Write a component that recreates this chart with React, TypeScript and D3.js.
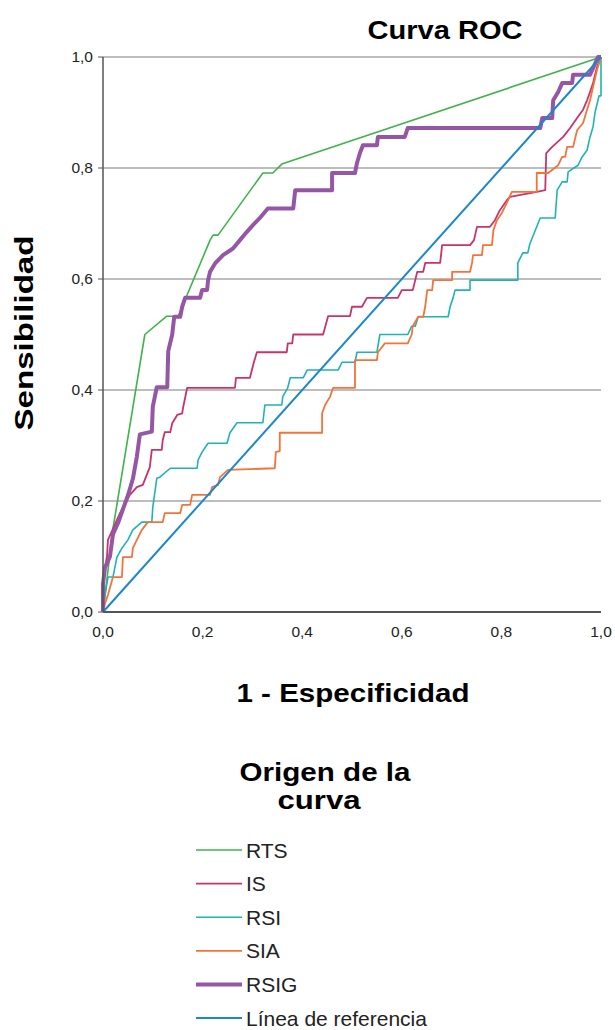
import React from 'react';
import * as d3 from 'd3';

// ROC curves (1 - especificidad, sensibilidad)
const rts: [number, number][] = [
  [0, 0], [0.02, 0.15], [0.084, 0.5], [0.128, 0.533], [0.151, 0.533], [0.215, 0.67],
  [0.221, 0.679], [0.231, 0.679], [0.321, 0.791], [0.341, 0.791], [0.359, 0.807], [1, 1]
];

const is: [number, number][] = [
  [0, 0], [0, 0.06], [0.008, 0.1], [0.01, 0.13], [0.02, 0.15], [0.034, 0.178], [0.054, 0.211],
  [0.068, 0.225], [0.08, 0.229], [0.094, 0.261], [0.098, 0.292], [0.118, 0.292], [0.12, 0.31],
  [0.124, 0.324], [0.135, 0.324], [0.139, 0.34], [0.149, 0.355], [0.159, 0.358], [0.161, 0.369],
  [0.169, 0.404], [0.265, 0.404], [0.267, 0.422], [0.295, 0.422], [0.299, 0.436], [0.303, 0.45],
  [0.309, 0.468], [0.369, 0.468], [0.371, 0.484], [0.38, 0.484], [0.382, 0.5], [0.442, 0.5],
  [0.452, 0.533], [0.496, 0.533], [0.5, 0.55], [0.52, 0.55], [0.53, 0.566], [0.592, 0.566],
  [0.6, 0.58], [0.622, 0.58], [0.627, 0.598], [0.631, 0.613], [0.643, 0.613], [0.647, 0.629],
  [0.677, 0.629], [0.681, 0.661], [0.737, 0.661], [0.745, 0.67], [0.751, 0.694], [0.777, 0.694],
  [0.787, 0.706], [0.797, 0.724], [0.811, 0.742], [0.817, 0.748], [0.871, 0.757], [0.888, 0.76],
  [0.89, 0.827], [0.902, 0.838], [0.924, 0.856], [0.938, 0.872], [0.952, 0.89], [0.964, 0.905],
  [0.972, 0.922], [0.978, 0.937], [0.984, 0.953], [0.992, 0.982], [1, 1]
];

const rsi: [number, number][] = [
  [0, 0], [0.004, 0.03], [0.01, 0.063], [0.02, 0.063], [0.028, 0.099], [0.038, 0.115], [0.05, 0.13],
  [0.06, 0.148], [0.078, 0.162], [0.098, 0.162], [0.1, 0.189], [0.108, 0.241], [0.114, 0.243],
  [0.135, 0.259], [0.189, 0.259], [0.191, 0.274], [0.199, 0.288], [0.211, 0.304], [0.249, 0.304],
  [0.255, 0.323], [0.269, 0.341], [0.321, 0.341], [0.325, 0.373], [0.359, 0.373], [0.361, 0.388],
  [0.371, 0.404], [0.376, 0.422], [0.402, 0.422], [0.41, 0.436], [0.472, 0.436], [0.48, 0.45],
  [0.506, 0.45], [0.51, 0.468], [0.55, 0.468], [0.556, 0.5], [0.612, 0.5], [0.62, 0.515],
  [0.627, 0.515], [0.633, 0.532], [0.693, 0.532], [0.697, 0.55], [0.703, 0.566], [0.707, 0.58],
  [0.737, 0.58], [0.737, 0.598], [0.833, 0.598], [0.833, 0.629], [0.843, 0.647], [0.853, 0.647],
  [0.857, 0.663], [0.878, 0.71], [0.908, 0.71], [0.912, 0.76], [0.922, 0.775], [0.932, 0.775],
  [0.934, 0.793], [0.954, 0.805], [0.962, 0.82], [0.972, 0.832], [0.978, 0.856], [0.984, 0.874],
  [0.988, 0.9], [0.996, 0.93], [1, 0.93], [1, 1]
];

const sia: [number, number][] = [
  [0, 0], [0.004, 0.015], [0.01, 0.031], [0.02, 0.063], [0.038, 0.063], [0.04, 0.099], [0.058, 0.099],
  [0.06, 0.115], [0.068, 0.13], [0.078, 0.148], [0.09, 0.162], [0.12, 0.162], [0.124, 0.178],
  [0.155, 0.178], [0.159, 0.193], [0.175, 0.193], [0.179, 0.211], [0.215, 0.211], [0.219, 0.225],
  [0.231, 0.229], [0.235, 0.243], [0.251, 0.256], [0.345, 0.259], [0.347, 0.288], [0.355, 0.29],
  [0.355, 0.323], [0.44, 0.323], [0.44, 0.358], [0.446, 0.373], [0.456, 0.388], [0.462, 0.404],
  [0.506, 0.404], [0.506, 0.454], [0.55, 0.454], [0.552, 0.468], [0.566, 0.484], [0.612, 0.484],
  [0.62, 0.5], [0.622, 0.515], [0.633, 0.532], [0.643, 0.532], [0.647, 0.55], [0.651, 0.58],
  [0.661, 0.58], [0.663, 0.598], [0.701, 0.598], [0.701, 0.613], [0.737, 0.613], [0.741, 0.629],
  [0.743, 0.643], [0.761, 0.643], [0.763, 0.661], [0.781, 0.661], [0.784, 0.688], [0.791, 0.706],
  [0.801, 0.719], [0.811, 0.737], [0.821, 0.757], [0.871, 0.757], [0.871, 0.791], [0.894, 0.791],
  [0.914, 0.805], [0.922, 0.82], [0.928, 0.82], [0.932, 0.838], [0.944, 0.838], [0.952, 0.868],
  [0.964, 0.881], [0.972, 0.905], [0.978, 0.922], [0.984, 0.946], [0.992, 0.977], [1, 1]
];

const rsig: [number, number][] = [
  [0, 0], [0, 0.05], [0.004, 0.08], [0.014, 0.1], [0.02, 0.14], [0.03, 0.16], [0.038, 0.18],
  [0.05, 0.21], [0.06, 0.24], [0.068, 0.28], [0.074, 0.32], [0.098, 0.325], [0.1, 0.37],
  [0.108, 0.405], [0.129, 0.405], [0.131, 0.47], [0.139, 0.5], [0.143, 0.532], [0.155, 0.532],
  [0.159, 0.55], [0.165, 0.566], [0.195, 0.566], [0.199, 0.58], [0.209, 0.58], [0.211, 0.598],
  [0.215, 0.613], [0.225, 0.628], [0.241, 0.643], [0.261, 0.655], [0.275, 0.67], [0.289, 0.685],
  [0.301, 0.697], [0.315, 0.71], [0.331, 0.727], [0.382, 0.727], [0.386, 0.76], [0.46, 0.76],
  [0.46, 0.791], [0.506, 0.791], [0.51, 0.809], [0.516, 0.827], [0.522, 0.841], [0.55, 0.841],
  [0.552, 0.856], [0.606, 0.856], [0.612, 0.872], [0.878, 0.872], [0.882, 0.89], [0.902, 0.89],
  [0.904, 0.922], [0.914, 0.937], [0.922, 0.953], [0.942, 0.953], [0.944, 0.968], [0.978, 0.968],
  [0.984, 0.98], [0.994, 1], [1, 1]
];

const reference: [number, number][] = [[0, 0], [1, 1]];

const seriesNames = ['RTS', 'IS', 'RSI', 'SIA', 'RSIG', 'Línea de referencia'];
const seriesData = [rts, is, rsi, sia, rsig, reference];
const seriesColors = ['#3eb449', '#c8336b', '#1fb4b1', '#f3733b', '#9556a6', '#1b87cf'];
const seriesWidths = [1.6, 1.8, 1.6, 1.8, 4, 2];

const tickValues = [0, 0.2, 0.4, 0.6, 0.8, 1];

function App() {
  const width = 615;
  const height = 1030;
  const margin = { top: 57, left: 103, right: 14, bottom: 418 };

  const x = d3.scaleLinear().domain([0, 1]).range([margin.left, width - margin.right]);
  const y = d3.scaleLinear().domain([0, 1]).range([height - margin.bottom, margin.top]);

  const locale = d3.formatLocale({ decimal: ',', thousands: '.', grouping: [3], currency: ['', '€'] });
  const fmt = locale.format('.1f');

  const line = d3.line<[number, number]>().x(d => x(d[0])).y(d => y(d[1]));

  const font = 'Liberation Sans, Arial, sans-serif';

  return (
    <svg width={width} height={height} style={{ position: 'absolute', left: 0, top: 0, background: '#fff' }}
      fontFamily={font}>
      <text x={445} y={39} textAnchor="middle" fontSize={25} fontWeight="bold" textLength={155}
        lengthAdjust="spacingAndGlyphs">Curva ROC</text>

      {/* gridlines */}
      {tickValues.filter(t => t > 0).map(t => (
        <line key={'g' + t} x1={x(0)} x2={x(1)} y1={y(t)} y2={y(t)} stroke="#bdbdbd" strokeWidth={1.8} />
      ))}

      {/* y ticks */}
      {tickValues.map(t => (
        <g key={'y' + t}>
          <line x1={x(0) - 5} x2={x(0)} y1={y(t)} y2={y(t)} stroke="#555" strokeWidth={1} />
          <text x={x(0) - 10} y={y(t) + 5} textAnchor="end" fontSize={15.5} fill="#222">{fmt(t)}</text>
        </g>
      ))}

      {/* x ticks */}
      {tickValues.map(t => (
        <text key={'x' + t} x={x(t)} y={y(0) + 25} textAnchor="middle" fontSize={15.5} fill="#222">{fmt(t)}</text>
      ))}

      {seriesData.map((d, i) => (
        <path key={seriesNames[i]} d={line(d) || ''} fill="none" stroke={seriesColors[i]}
          strokeWidth={seriesWidths[i]} strokeLinejoin="round" />
      ))}

      {/* axes */}
      <line x1={x(0)} x2={x(0)} y1={y(1)} y2={y(0)} stroke="#555" strokeWidth={1.5} />
      <line x1={x(0)} x2={x(1)} y1={y(0)} y2={y(0)} stroke="#555" strokeWidth={2} />

      <text x={353} y={702} textAnchor="middle" fontSize={26} fontWeight="bold" textLength={233}
        lengthAdjust="spacingAndGlyphs">1 - Especificidad</text>
      <text transform={`translate(33,${333}) rotate(-90)`} textAnchor="middle" fontSize={26}
        fontWeight="bold" textLength={195} lengthAdjust="spacingAndGlyphs">Sensibilidad</text>

      {/* legend */}
      <text x={325} y={781} textAnchor="middle" fontSize={26} fontWeight="bold" textLength={171}
        lengthAdjust="spacingAndGlyphs">Origen de la</text>
      <text x={319} y={809} textAnchor="middle" fontSize={26} fontWeight="bold" textLength={83}
        lengthAdjust="spacingAndGlyphs">curva</text>
      {seriesNames.map((name, i) => {
        const ly = 850 + i * 33.6;
        return (
          <g key={'l' + name}>
            <line x1={196} x2={242} y1={ly} y2={ly} stroke={seriesColors[i]} strokeWidth={seriesWidths[i]} />
            <text x={246} y={ly + 7.5} fontSize={21} fill="#222">{name}</text>
          </g>
        );
      })}
    </svg>
  );
}

export default App;
